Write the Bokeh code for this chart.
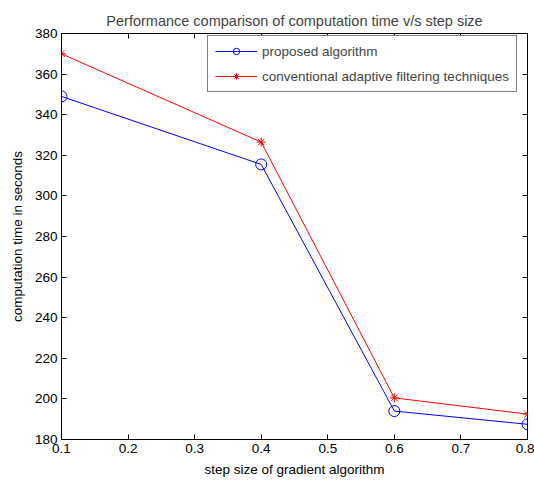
from bokeh.plotting import figure
from bokeh.models import LinearAxis, Range1d, FixedTicker, Legend, LegendItem
from bokeh.embed import file_html
from bokeh.resources import INLINE

step_size = [0.1, 0.4, 0.6, 0.8]
proposed = [349, 315.5, 194, 187.5]
conventional = [370, 326.5, 200.5, 192.5]
x_ticks = [0.1, 0.2, 0.3, 0.4, 0.5, 0.6, 0.7, 0.8]
y_ticks = [180, 200, 220, 240, 260, 280, 300, 320, 340, 360, 380]

FONT = "Liberation Sans"

p = figure(width=534, height=483, output_backend="svg", toolbar_location=None,
           x_range=Range1d(0.1, 0.8), y_range=Range1d(180, 380),
           min_border_left=61, min_border_right=7, min_border_top=33, min_border_bottom=44,
           title="Performance comparison of computation time v/s step size")
p.background_fill_color = "white"
p.border_fill_color = "white"
p.outline_line_color = "black"
p.outline_line_width = 1
p.grid.visible = False

p.title.text_font = FONT
p.title.text_font_size = "14.5px"
p.title.text_font_style = "normal"
p.title.align = "center"
p.title.offset = 0
p.title.standoff = 9

def style_axis(ax, labels=True):
    ax.axis_line_color = "black"
    ax.major_tick_in = 5
    ax.major_tick_out = 0
    ax.minor_tick_line_color = None
    ax.major_tick_line_color = "black"
    ax.major_tick_line_width = 1
    ax.major_label_text_font = FONT
    ax.major_label_text_font_size = "13.5px"
    ax.major_label_text_color = "black"
    ax.axis_label_text_font = FONT
    ax.axis_label_text_font_size = "13.5px"
    ax.axis_label_text_font_style = "normal"
    ax.axis_label_text_color = "black"
    if not labels:
        ax.major_label_text_font_size = "0px"
        ax.major_label_text_alpha = 0

p.xaxis.ticker = FixedTicker(ticks=x_ticks)
p.yaxis.ticker = FixedTicker(ticks=y_ticks)
p.xaxis.axis_label = "step size of gradient algorithm"
p.yaxis.axis_label = "computation time in seconds"
p.xaxis.major_label_standoff = 4
p.yaxis.major_label_standoff = 4
p.xaxis.axis_label_standoff = 6
p.yaxis.axis_label_standoff = 7
style_axis(p.xaxis[0])
style_axis(p.yaxis[0])

top = LinearAxis(ticker=FixedTicker(ticks=x_ticks))
right = LinearAxis(ticker=FixedTicker(ticks=y_ticks))
style_axis(top, labels=False)
style_axis(right, labels=False)
top.major_label_standoff = 0
right.major_label_standoff = 0
p.add_layout(top, "above")
p.add_layout(right, "right")

l1 = p.line(step_size, proposed, line_color="blue", line_width=1)
m1 = p.scatter(step_size, proposed, marker="circle", size=11, fill_color=None,
               line_color="blue", line_width=1)
l2 = p.line(step_size, conventional, line_color="red", line_width=1)
m2 = p.scatter(step_size, conventional, marker="asterisk", size=9,
               line_color="red", line_width=1)

legend = Legend(items=[
    LegendItem(label="proposed algorithm", renderers=[l1, m1]),
    LegendItem(label="conventional adaptive filtering techniques", renderers=[l2, m2]),
], location=(146, 347))
legend.border_line_color = "black"
legend.border_line_width = 1
legend.background_fill_color = "white"
legend.label_text_font = FONT
legend.label_text_font_size = "13.5px"
legend.glyph_width = 42
legend.glyph_height = 16
legend.label_standoff = 5
legend.padding = 7
legend.spacing = 9
legend.margin = 0
p.add_layout(legend, "center")

open("out.html", "w").write(file_html(p, INLINE))
